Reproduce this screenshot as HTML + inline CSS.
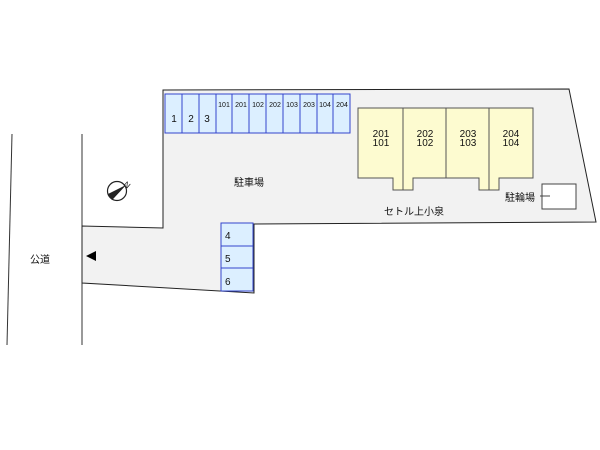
<!DOCTYPE html>
<html><head><meta charset="utf-8"><style>
html,body{margin:0;padding:0;background:#fff;}
svg{display:block}
text{font-family:"Liberation Sans","Noto Sans CJK JP",sans-serif;fill:#111}
</style></head><body>
<svg width="600" height="450" viewBox="0 0 600 450" xmlns="http://www.w3.org/2000/svg">
<line x1="12" y1="134" x2="7" y2="345" stroke="#333" stroke-width="1"/>
<line x1="82" y1="134" x2="82" y2="345" stroke="#333" stroke-width="1"/>
<polygon points="163,90 569,89 596,222 254,224 254,293 82,283 82,226 163,228" fill="#f2f2f2" stroke="#222" stroke-width="1"/>
<polygon points="86,256 96,251 96,261" fill="#000"/>
<text x="30" y="263" font-size="10">公道</text>
<!-- compass -->
<circle cx="117" cy="191" r="9.5" fill="none" stroke="#222" stroke-width="1.2"/>
<polygon points="110,196 113,199 126,185" fill="#222"/>
<polygon points="108,194 126,185 112,200" fill="#222"/>
<text x="125" y="188" font-size="8" transform="rotate(40 128 184)">N</text>
<!-- top slots -->
<g stroke="#3344cc" stroke-width="1" fill="#dcefff">
<rect x="165" y="94" width="185" height="39"/>
</g>
<g stroke="#3344cc" stroke-width="1">
<line x1="182" y1="94" x2="182" y2="133"/><line x1="199" y1="94" x2="199" y2="133"/><line x1="216" y1="94" x2="216" y2="133"/><line x1="232" y1="94" x2="232" y2="133"/><line x1="249" y1="94" x2="249" y2="133"/><line x1="266" y1="94" x2="266" y2="133"/><line x1="283" y1="94" x2="283" y2="133"/><line x1="300" y1="94" x2="300" y2="133"/><line x1="317" y1="94" x2="317" y2="133"/><line x1="333" y1="94" x2="333" y2="133"/>
</g>
<g font-size="10" text-anchor="middle">
<text x="174" y="122">1</text><text x="191" y="122">2</text><text x="207" y="122">3</text>
</g>
<g font-size="7" text-anchor="middle">
<text x="224" y="107">101</text><text x="241" y="107">201</text><text x="258" y="107">102</text><text x="275" y="107">202</text><text x="292" y="107">103</text><text x="309" y="107">203</text><text x="325" y="107">104</text><text x="342" y="107">204</text>
</g>
<!-- 4-6 -->
<rect x="221" y="223" width="32" height="68" fill="#dcefff" stroke="#3344cc"/>
<line x1="221" y1="246" x2="253" y2="246" stroke="#3344cc"/>
<line x1="221" y1="268" x2="253" y2="268" stroke="#3344cc"/>
<g font-size="10"><text x="225" y="239">4</text><text x="225" y="262">5</text><text x="225" y="285">6</text></g>
<text x="234" y="186" font-size="10">駐車場</text>
<!-- buildings -->
<polygon points="358,108 533,108 533,178 499,178 499,190 479,190 479,178 413,178 413,190 393,190 393,178 358,178" fill="#fdfbd0" stroke="#555"/>
<g stroke="#555"><line x1="403" y1="108" x2="403" y2="190"/><line x1="446" y1="108" x2="446" y2="178"/><line x1="489" y1="108" x2="489" y2="190"/></g>
<g font-size="10" text-anchor="middle">
<text x="381" y="137">201</text><text x="381" y="146">101</text>
<text x="425" y="137">202</text><text x="425" y="146">102</text>
<text x="468" y="137">203</text><text x="468" y="146">103</text>
<text x="511" y="137">204</text><text x="511" y="146">104</text>
</g>
<rect x="542" y="184" width="34" height="25" fill="#fff" stroke="#444"/>
<line x1="540" y1="196" x2="550" y2="196" stroke="#444"/>
<text x="505" y="201" font-size="10">駐輪場</text>
<text x="384" y="215" font-size="10">セトル上小泉</text>
</svg>
</body></html>
